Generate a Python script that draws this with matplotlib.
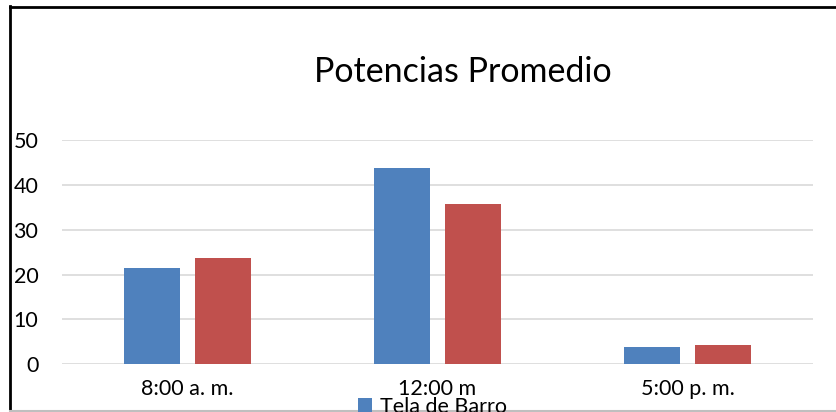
import numpy as np
import matplotlib
matplotlib.use("Agg")
import matplotlib.pyplot as plt
from matplotlib.lines import Line2D
from matplotlib.patches import Patch

plt.rcParams["font.family"] = ["Lato", "DejaVu Sans"]

CATEGORIES = ["8:00 a. m.", "12:00 m", "5:00 p. m."]
SERIES_NAMES = ["Tela de Barro", "Teja de Concreto"]
TELA_BARRO = [21.5, 43.8, 3.9]
SERIE_2 = [23.8, 35.7, 4.4]
Y_TICKS = [0, 10, 20, 30, 40, 50]
COLORS = ["#4F81BD", "#C0504D"]

fig = plt.figure(figsize=(8.36, 4.12), dpi=100)
ax = fig.add_axes([0.0742, 0.1158, 0.898, 0.5444])

x = np.arange(len(CATEGORIES))
width = 0.224
gap = 0.06
ax.bar(x - (width + gap) / 2, TELA_BARRO, width, color=COLORS[0], zorder=3)
ax.bar(x + (width + gap) / 2, SERIE_2, width, color=COLORS[1], zorder=3)

ax.set_xlim(-0.5, len(CATEGORIES) - 0.5)
ax.set_ylim(0, 50)
ax.set_yticks(Y_TICKS)
ax.set_xticks(x)
ax.set_xticklabels(CATEGORIES, fontsize=15.5)
ax.tick_params(axis="y", labelsize=15.5, length=0, pad=17)
ax.tick_params(axis="x", length=0, pad=10.5)
ax.yaxis.grid(True, color="#D9D9D9", linewidth=1.2, zorder=0)
ax.set_axisbelow(True)
for s in ax.spines.values():
    s.set_visible(False)

fig.text(0.554, 0.825, "Potencias Promedio", ha="center", va="center", fontsize=24.5)

# legend, second entry falls outside the picture
handles = [Patch(facecolor=COLORS[0]), Patch(facecolor=COLORS[1])]
fig.legend(handles, SERIES_NAMES, loc="upper left",
           bbox_to_anchor=(358 / 836, 1 - 397 / 412), frameon=False,
           fontsize=15.5, handlelength=0.65, handleheight=0.65,
           handletextpad=0.35, borderpad=0, borderaxespad=0)

# chart border
fig.add_artist(Line2D([10 / 836, 10 / 836], [0, 1 - 6 / 412], color="black", lw=2))
fig.add_artist(Line2D([10 / 836, 1], [1 - 7 / 412, 1 - 7 / 412], color="black", lw=2))
fig.add_artist(Line2D([10 / 836, 1], [1.5 / 412, 1.5 / 412], color="#BFBFBF", lw=1.5))

fig.savefig("out.png", dpi=100)
